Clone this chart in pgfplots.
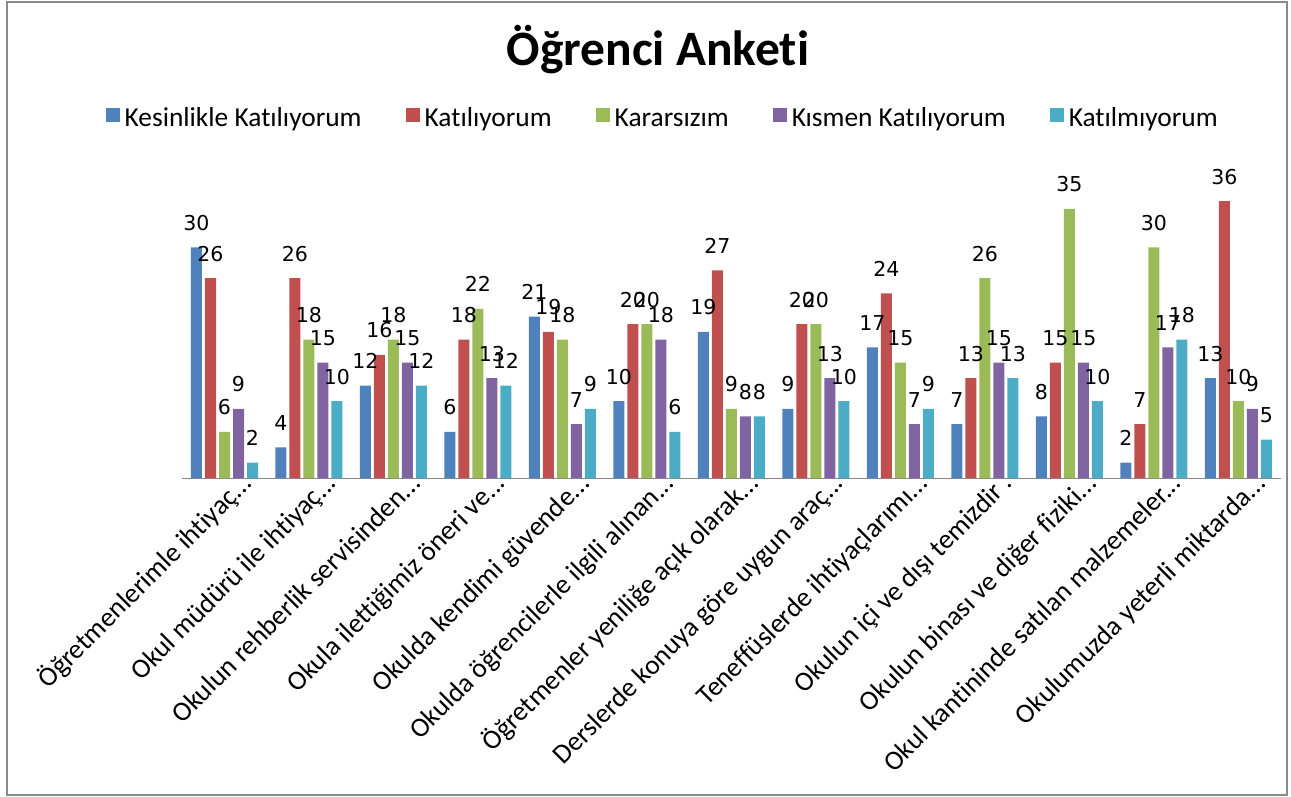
\documentclass[border=0pt]{standalone}
\usepackage{pgfplots}
\usepackage{pgfplotstable}
\pgfplotsset{compat=1.18}
\usepackage{fontspec}
\setmainfont{Carlito}[Ligatures=NoCommon]
\newfontfamily\lblfont{DejaVu Sans}
\definecolor{c1}{HTML}{4F81BD}
\definecolor{c2}{HTML}{C0504D}
\definecolor{c3}{HTML}{9BBB59}
\definecolor{c4}{HTML}{8064A2}
\definecolor{c5}{HTML}{4BACC6}
\definecolor{frame}{HTML}{898989}
\newcommand{\el}{.\kern0pt.\kern0pt.}

\pgfplotstableread{
x a b c d e
0 30 26 6 9 2
1 4 26 18 15 10
2 12 16 18 15 12
3 6 18 22 13 12
4 21 19 18 7 9
5 10 20 20 18 6
6 19 27 9 8 8
7 9 20 20 13 10
8 17 24 15 7 9
9 7 13 26 15 13
10 8 15 35 15 10
11 2 7 30 17 18
12 13 36 10 9 5
}\datatable

\begin{document}
\begin{tikzpicture}[x=1pt,y=1pt]
\useasboundingbox (0,0) rectangle (1291,-796);
\draw[frame, line width=2pt] (7,-1.5) rectangle (1287,-794.5);
\node[font=\fontsize{49.5}{55}\selectfont\bfseries, anchor=base, inner sep=0] at (658,-65) {Öğrenci Anketi};
\begin{axis}[
  at={(224.5pt,-478pt)}, anchor=origin,
  scale only axis, width=1098.5pt, height=307.6pt,
  ymin=0, ymax=40, xmin=-0.5, xmax=12.5,
  axis x line=bottom, axis y line=none,
  axis line style={-, draw=frame, line width=1pt},
  major tick length=0pt,
  ybar=3pt, bar width=11pt,
  clip=false,
  xtick={0,1,2,3,4,5,6,7,8,9,10,11,12},
  xticklabels={{Öğretmenlerimle ihtiyaç\el},{Okul müdürü ile ihtiyaç\el},{Okulun rehberlik servisinden\el},{Okula ilettiğimiz öneri ve\el},{Okulda kendimi güvende\el},{Okulda öğrencilerle ilgili alınan\el},{Öğretmenler yeniliğe açık olarak\el},{Derslerde konuya göre uygun araç\el},{Teneffüslerde ihtiyaçlarımı\el},{Okulun içi ve dışı temizdir .\hspace{21pt}},{Okulun binası ve diğer fiziki\el},{Okul kantininde satılan malzemeler\el},{Okulumuzda yeterli miktarda\el}},
  xticklabel style={font=\fontsize{27.4}{30}\selectfont, rotate=45, anchor=base east, inner sep=0pt, xshift=16pt, yshift=-25pt},
  nodes near coords,
  /pgf/number format/assume math mode=true,
  every node near coord/.append style={font=\lblfont\fontsize{20.5}{22}\selectfont, anchor=base, inner sep=0pt, yshift=17pt, text=black},
  legend columns=5,
  legend style={at={(0.4374,1.17)}, anchor=center, draw=none, fill=none,
    font=\fontsize{27.4}{30}\selectfont,
    /tikz/every even column/.append style={column sep=42pt}},
  legend image code/.code={\path (0pt,0pt) -- (17pt,0pt);\fill[#1,draw=none] (0pt,-4pt) rectangle (14pt,10pt);},
]
\addplot[fill=c1, draw=none] table[x=x,y=a]{\datatable};
\addplot[fill=c2, draw=none] table[x=x,y=b]{\datatable};
\addplot[fill=c3, draw=none] table[x=x,y=c]{\datatable};
\addplot[fill=c4, draw=none] table[x=x,y=d]{\datatable};
\addplot[fill=c5, draw=none] table[x=x,y=e]{\datatable};
\legend{Kesinlikle Katılıyorum,Katılıyorum,Kararsızım,Kısmen Katılıyorum,Katılmıyorum}
\end{axis}
\end{tikzpicture}
\end{document}
